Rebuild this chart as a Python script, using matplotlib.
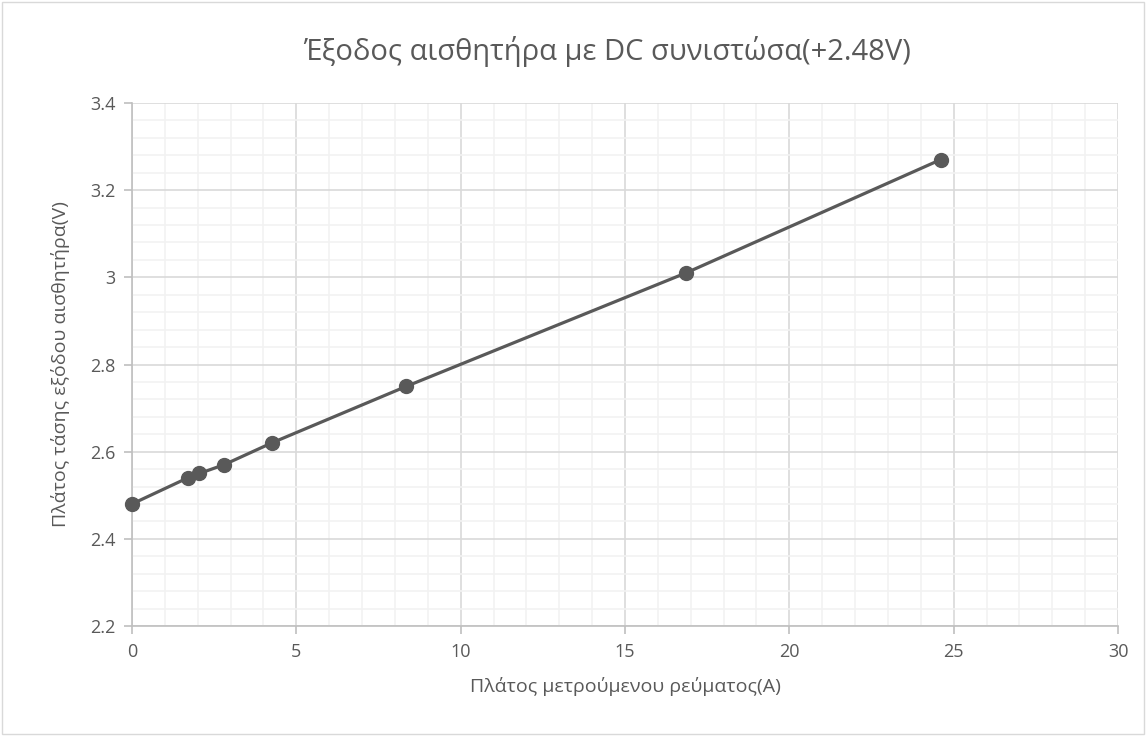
import matplotlib.pyplot as plt
from matplotlib.ticker import MultipleLocator

# data
current = [0, 1.7, 2.05, 2.8, 4.25, 8.35, 16.85, 24.6]
voltage = [2.48, 2.54, 2.55, 2.57, 2.62, 2.75, 3.01, 3.27]

title = 'Έξοδος αισθητήρα με DC συνιστώσα(+2.48V)'
xlabel = 'Πλάτος μετρούμενου ρεύματος(A)'
ylabel = 'Πλάτος τάσης εξόδου αισθητήρα(V)'

plt.rcParams['font.family'] = ['Open Sans', 'DejaVu Sans']
txt = '#595959'

fig = plt.figure(figsize=(11.46, 7.36), dpi=100)
ax = fig.add_axes([0.1152, 0.1495, 0.8604, 0.7105])

ax.plot(current, voltage, color='#595959', lw=2.3, marker='o', ms=10,
        zorder=5, clip_on=False)

ax.set_xlim(0, 30)
ax.set_ylim(2.2, 3.4)
ax.xaxis.set_major_locator(MultipleLocator(5))
ax.xaxis.set_minor_locator(MultipleLocator(1))
ax.yaxis.set_major_locator(MultipleLocator(0.2))
ax.yaxis.set_minor_locator(MultipleLocator(0.04))
ax.yaxis.set_major_formatter(plt.FuncFormatter(lambda v, p: '%g' % round(v, 2)))

ax.grid(which='major', color='#d9d9d9', lw=1.2)
ax.grid(which='minor', color='#f2f2f2', lw=1.2)
ax.set_axisbelow(True)

for s in ['top', 'right']:
    ax.spines[s].set_visible(False)
for s in ['left', 'bottom']:
    ax.spines[s].set_color('#bfbfbf')
    ax.spines[s].set_linewidth(1.2)

ax.tick_params(which='major', length=6, width=1.2, color='#bfbfbf',
               labelsize=13, labelcolor=txt, pad=6)
ax.tick_params(which='minor', length=0)

ax.set_xlabel(xlabel, fontsize=14, color=txt, labelpad=12)
ax.set_ylabel(ylabel, fontsize=14, color=txt, labelpad=14)
fig.text(0.53, 0.93, title, ha='center', va='center', fontsize=21, color=txt)

# chart area border
fig.patches.append(plt.Rectangle((0.002, 0.003), 0.996, 0.994,
                                 transform=fig.transFigure, fill=False,
                                 ec='#d9d9d9', lw=1))

fig.savefig('out.png', dpi=100)
